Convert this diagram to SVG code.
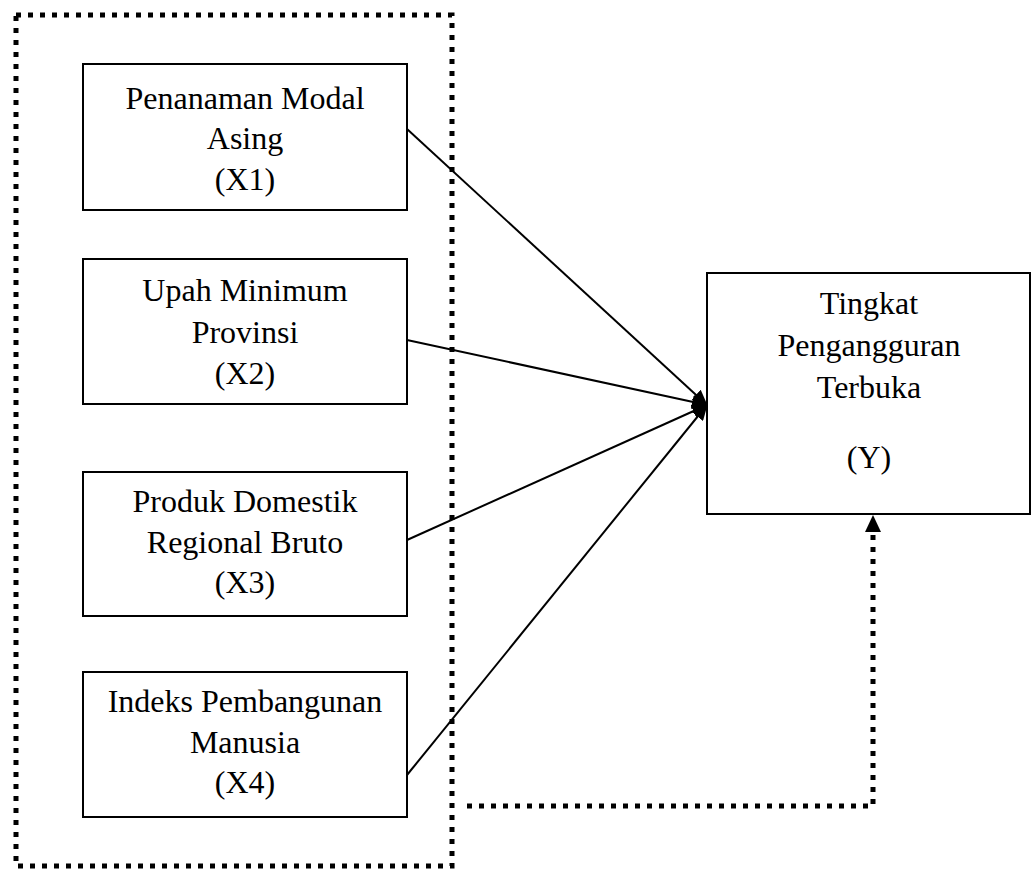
<svg xmlns="http://www.w3.org/2000/svg" width="1034" height="870" viewBox="0 0 1034 870">
<style>
.box{fill:#fff;stroke:#000;stroke-width:2}
.t{font-family:"Liberation Serif","Times New Roman",serif;font-size:32px;fill:#000;text-anchor:middle}
.ln{stroke:#000;stroke-width:2;fill:none;marker-end:url(#ah)}
.dot{stroke:#000;stroke-width:5;fill:none;stroke-dasharray:5 7}
</style>
<defs>
<marker id="ah" markerUnits="userSpaceOnUse" markerWidth="16" markerHeight="14" refX="15" refY="7" orient="auto">
<path d="M0,0 L16,7 L0,14 Z" fill="#000"/>
</marker>
</defs>
<rect class="dot" x="16" y="15" width="436" height="851"/>
<g id="x1">
<rect class="box" x="83" y="64" width="324" height="146"/>
<text class="t" x="245" y="109">Penanaman Modal</text>
<text class="t" x="245" y="149">Asing</text>
<text class="t" x="245" y="190">(X1)</text>
</g>
<g id="x2">
<rect class="box" x="83" y="259" width="324" height="145"/>
<text class="t" x="245" y="301">Upah Minimum</text>
<text class="t" x="245" y="343">Provinsi</text>
<text class="t" x="245" y="384">(X2)</text>
</g>
<g id="x3">
<rect class="box" x="83" y="472" width="324" height="144"/>
<text class="t" x="245" y="512">Produk Domestik</text>
<text class="t" x="245" y="553">Regional Bruto</text>
<text class="t" x="245" y="593">(X3)</text>
</g>
<g id="x4">
<rect class="box" x="83" y="672" width="324" height="145"/>
<text class="t" x="245" y="712">Indeks Pembangunan</text>
<text class="t" x="245" y="753">Manusia</text>
<text class="t" x="245" y="793">(X4)</text>
</g>
<g id="y">
<rect class="box" x="707" y="273" width="323" height="241"/>
<text class="t" x="869" y="314">Tingkat</text>
<text class="t" x="869" y="356">Pengangguran</text>
<text class="t" x="869" y="398">Terbuka</text>
<text class="t" x="869" y="468">(Y)</text>
</g>
<g id="connectors">
<line class="ln" x1="407" y1="129" x2="707" y2="405"/>
<line class="ln" x1="407" y1="340" x2="707" y2="405"/>
<line class="ln" x1="407" y1="540" x2="707" y2="405"/>
<line class="ln" x1="407" y1="775" x2="707" y2="405"/>
<path class="dot" d="M467,806 H873 V534"/>
<path d="M865,532 L873,515 L881,532 Z" fill="#000"/>
</g>
</svg>
